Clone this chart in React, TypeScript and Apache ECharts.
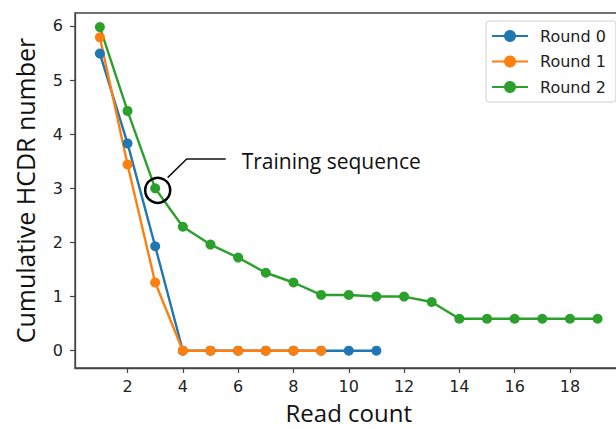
import React, { useEffect, useRef } from "react";
import * as echarts from "echarts";

const round0X = [1, 2, 3, 4, 5, 6, 7, 8, 9, 10, 11];
const round0Y = [5.49, 3.83, 1.93, 0, 0, 0, 0, 0, 0, 0, 0];
const round1X = [1, 2, 3, 4, 5, 6, 7, 8, 9];
const round1Y = [5.79, 3.44, 1.26, 0, 0, 0, 0, 0, 0];
const round2X = [1, 2, 3, 4, 5, 6, 7, 8, 9, 10, 11, 12, 13, 14, 15, 16, 17, 18, 19];
const round2Y = [5.98, 4.43, 3.0, 2.29, 1.96, 1.72, 1.44, 1.26, 1.03, 1.03, 1.0, 1.0, 0.9, 0.59, 0.59, 0.59, 0.59, 0.59, 0.59];
const seriesNames = ["Round 0", "Round 1", "Round 2"];
const colors = ["#1f77b4", "#ff7f0e", "#2ca02c"];
const xTicks = [2, 4, 6, 8, 10, 12, 14, 16, 18];
const yTicks = [0, 1, 2, 3, 4, 5, 6];
const annotationPoint = [3, 3];
const annotationText = "Training sequence";

export default function App() {
  const ref = useRef<HTMLDivElement>(null);
  useEffect(() => {
    if (!ref.current) return;
    const chart = echarts.init(ref.current, null, { renderer: "svg" });
    const pair = (xs: number[], ys: number[]) => xs.map((x, i) => [x, ys[i]]);
    const datasets = [pair(round0X, round0Y), pair(round1X, round1Y), pair(round2X, round2Y)];
    const tickFont = { fontFamily: "DejaVu Sans", fontSize: 16, color: "#222" };
    chart.setOption({
      animation: false,
      backgroundColor: "#ffffff",
      grid: {
        left: 75,
        right: -6.5,
        top: 13,
        bottom: 61,
        show: true,
        borderColor: "#444",
        borderWidth: 1.3,
        outerBoundsMode: "none",
      },
      legend: {
        orient: "vertical",
        left: 486,
        top: 21,
        padding: [7, 10, 7, 5],
        itemWidth: 36,
        itemHeight: 15,
        itemGap: 9.5,
        borderColor: "#d0d0d0",
        borderWidth: 1,
        borderRadius: 3,
        backgroundColor: "#ffffff",
        textStyle: { fontFamily: "DejaVu Sans", fontSize: 16, color: "#222", padding: [0, 0, 0, 7] },
        data: seriesNames,
      },
      xAxis: {
        type: "value",
        min: 0.1,
        max: 19.9,
        name: "Read count",
        nameLocation: "middle",
        nameGap: 32,
        nameTextStyle: { fontFamily: "Open Sans", fontSize: 24, color: "#111" },
        axisLine: { show: true, onZero: false, lineStyle: { color: "#444", width: 1.3 } },
        axisTick: { show: true, customValues: xTicks, length: 5, lineStyle: { color: "#444", width: 1.2 } },
        axisLabel: { customValues: xTicks, margin: 10, ...tickFont },
        splitLine: { show: false },
      },
      yAxis: {
        type: "value",
        min: -0.32,
        max: 6.24,
        name: "Cumulative HCDR number",
        nameLocation: "middle",
        nameGap: 38,
        nameTextStyle: { fontFamily: "Open Sans", fontSize: 25, color: "#111" },
        axisLine: { show: true, onZero: false, lineStyle: { color: "#444", width: 1.3 } },
        axisTick: { show: true, customValues: yTicks, length: 5, lineStyle: { color: "#444", width: 1.2 } },
        axisLabel: { customValues: yTicks, margin: 12, ...tickFont },
        splitLine: { show: false },
      },
      series: datasets.map((d, i) => ({
        name: seriesNames[i],
        type: "line",
        data: d,
        symbol: "circle",
        symbolSize: 10,
        showSymbol: true,
        color: colors[i],
        itemStyle: { color: colors[i] },
        lineStyle: { color: colors[i], width: 2.4 },
      })),
    });
    const [px, py] = chart.convertToPixel({ gridIndex: 0 }, annotationPoint) as number[];
    chart.setOption({
      graphic: [
        {
          type: "circle",
          shape: { cx: px + 2.5, cy: py + 2, r: 12.5 },
          style: { fill: "none", stroke: "#000", lineWidth: 2.5 },
          z: 100,
        },
        {
          type: "polyline",
          shape: { points: [[px + 12.5, py - 10.7], [px + 31.5, py - 29.4], [px + 70.5, py - 29.4]] },
          style: { fill: "none", stroke: "#111", lineWidth: 1.5 },
          z: 100,
        },
        {
          type: "text",
          x: px + 86.5,
          y: py - 27.7,
          style: {
            text: annotationText,
            fontFamily: "Open Sans",
            fontSize: 21,
            fill: "#111",
            verticalAlign: "middle",
            align: "left",
          },
          z: 100,
        },
      ],
    });
    return () => chart.dispose();
  }, []);
  return <div ref={ref} style={{ width: 616, height: 429, position: "absolute", left: 0, top: 0 }} />;
}
